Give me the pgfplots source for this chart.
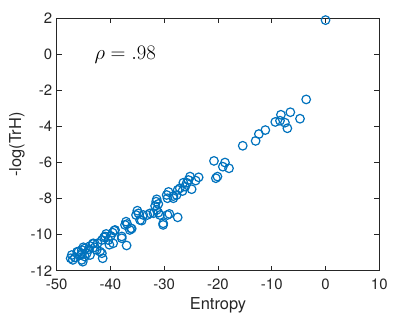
\documentclass[border=0pt]{standalone}
\usepackage{fontspec}
\setmainfont{TeX Gyre Heros}
\usepackage{pgfplots}
\pgfplotsset{compat=1.18}
\definecolor{mblue}{RGB}{0,114,189}
\definecolor{axgray}{RGB}{38,38,38}
\begin{document}
\begin{tikzpicture}
\begin{axis}[
    scale only axis,
    width=322.6bp, height=252.4bp,
    xmin=-50, xmax=10, ymin=-12, ymax=2,
    xtick={-50,-40,...,10}, ytick={-12,-10,...,2},
    tick align=inside,
    major tick length=5bp,
    axis line style={axgray, line width=0.6pt},
    tick style={axgray, line width=0.6pt},
    ticklabel style={font=\fontsize{15}{17}\selectfont, text=axgray},
    xticklabel style={yshift=-5bp},
    yticklabel style={xshift=-1bp},
    /pgf/number format/assume math mode=true,
    xlabel={Entropy}, ylabel={-log(TrH)},
    label style={font=\fontsize{16.5}{18}\selectfont, text=axgray},
    xlabel style={yshift=-1bp},
    ylabel style={yshift=-1bp},
    clip=false
]
\addplot[only marks, mark=o, mark size=4.3bp, mblue, line width=1.2bp] coordinates {
(0,1.9) (-3.6,-2.5) (-6.55,-3.21) (-4.75,-3.57) (-8.3,-3.35) (-9.35,-3.75)
(-8.47,-3.68) (-7.55,-3.79) (-7.1,-4.1) (-11.2,-4.2) (-12.4,-4.42) (-13.0,-4.8)
(-15.4,-5.07) (-20.75,-5.91) (-18.7,-6.0) (-19.1,-6.23) (-17.95,-6.32)
(-20.4,-6.87) (-20.1,-6.78) (-23.6,-6.82) (-25.2,-6.78) (-25.5,-6.97)
(-24.15,-7.0) (-25.8,-7.12) (-26.45,-7.12) (-27.1,-7.43) (-26.1,-7.34)
(-24.9,-7.48) (-26.6,-7.58) (-27.5,-7.52) (-27.7,-7.8) (-28.3,-7.86)
(-29.2,-7.63) (-29.55,-7.8) (-29.4,-7.98) (-28.3,-7.98) (-31.4,-8.04)
(-31.5,-8.17) (-31.1,-8.3) (-31.7,-8.41) (-31.4,-8.63) (-32.0,-8.81)
(-31.1,-8.78) (-30.8,-8.91) (-30.2,-9.46) (-29.05,-8.85) (-27.5,-9.04)
(-35.0,-8.67) (-34.8,-8.82) (-35.25,-8.91) (-33.9,-8.91) (-34.2,-9.22)
(-32.65,-8.82) (-33.15,-8.91) (-37.1,-9.28) (-37.3,-9.46) (-36.9,-9.41)
(-36.05,-9.67) (-36.4,-9.74) (-37.9,-10.1) (-37.0,-10.6) (-39.3,-9.78)
(-39.95,-10.07) (-40.8,-9.96) (-39.5,-10.48) (-40.2,-10.56) (-41.6,-10.3)
(-41.2,-10.15) (-42.4,-10.48) (-43.3,-10.52) (-43.8,-10.63) (-42.55,-10.85)
(-41.6,-11.03) (-41.45,-11.31) (-45.05,-10.7) (-45.35,-10.85) (-45.95,-10.94)
(-44.4,-11.03) (-43.8,-11.13) (-44.75,-11.22) (-47.2,-11.13) (-47.4,-11.31)
(-46.6,-11.26) (-45.35,-11.4) (-45.55,-11.13) (-47.0,-11.4) (-45.35,-11.03)
(-44.75,-10.76) (-43.2,-10.48) (-45.15,-11.5) (-41.95,-10.94) (-41.0,-10.1)
(-39.6,-9.89) (-39.15,-9.74) (-40.4,-10.3) (-37.9,-10.2) (-36.2,-9.65)
(-34.5,-9.19) (-30.2,-9.37) (-29.4,-8.91) (-46.2,-10.95) (-44.0,-10.8)
(-42.9,-10.7)
};
\node[anchor=west, font=\fontsize{22}{24}\selectfont, inner sep=0pt] at (axis cs:-43,0) {$\rho = .98$};
\end{axis}
\pgfresetboundingbox
\path[use as bounding box] ([shift={(-56.7bp,-55.3bp)}]current axis.south west) rectangle ([shift={(35.7bp,18.3bp)}]current axis.north east);
\end{tikzpicture}
\end{document}
